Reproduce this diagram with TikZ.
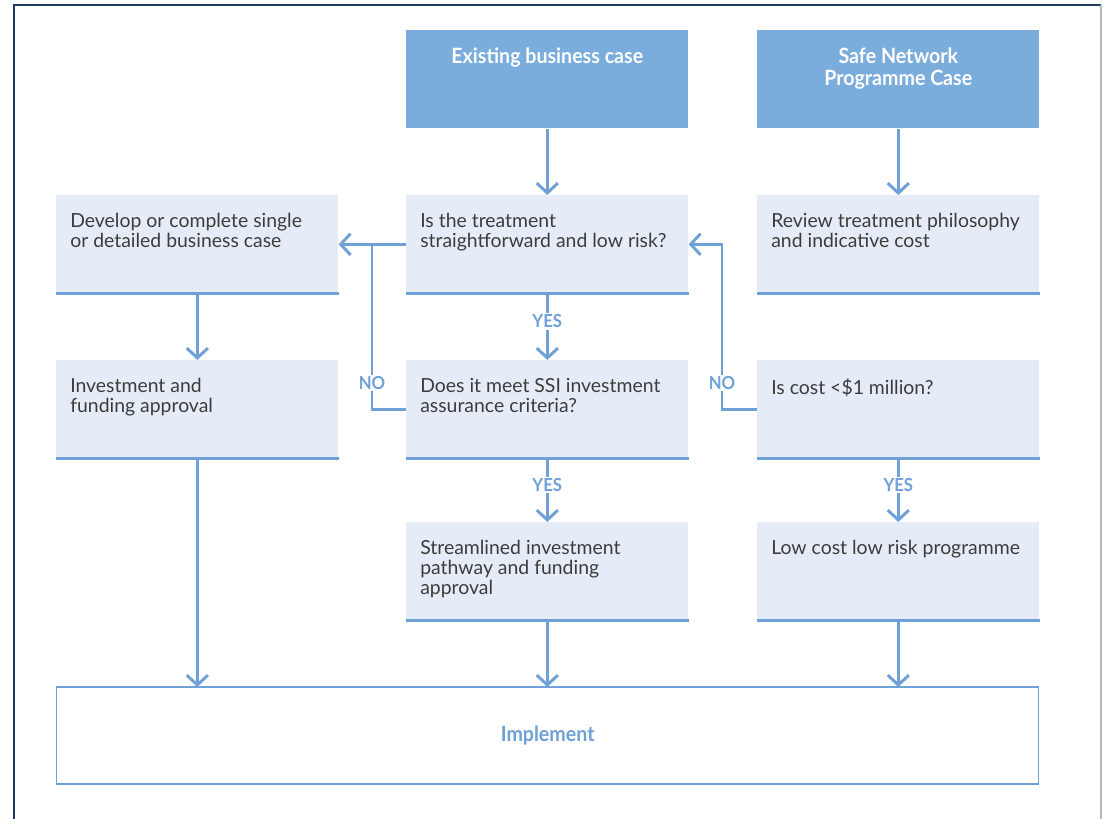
\documentclass[tikz,border=0pt]{standalone}
\usepackage{fontspec}
\setmainfont{Lato}
\newfontfamily\condfont[FakeStretch=0.93]{Lato}
\usetikzlibrary{arrows.meta}
\definecolor{flowblue}{HTML}{6FA0D6}
\definecolor{headblue}{HTML}{7AACDC}
\definecolor{boxfill}{HTML}{E6ECF7}
\definecolor{textgray}{HTML}{3C3C3C}
\definecolor{framenavy}{HTML}{1F3A5F}
\definecolor{framegray}{HTML}{AEB9C6}
\begin{document}
\begin{tikzpicture}[x=0.025cm,y=-0.025cm,
    card/.style={anchor=north west,inner xsep=0.35cm,inner ysep=0.45cm,
        execute at begin node={\begin{minipage}[t][1.55cm][t]{6.35cm}#1},
        execute at end node={\end{minipage}}},
    plainbox/.style={card=\raggedright,fill=boxfill,text=textgray,font=\fontsize{13.8}{14.3}\selectfont},
    headbox/.style={card=\centering,fill=headblue,text=white,font=\condfont\bfseries\fontsize{15}{15}\selectfont},
    implbox/.style={anchor=north west,minimum width=24.55cm,minimum height=2.4cm,fill=white,
        draw=flowblue,line width=0.8pt,text=flowblue,font=\condfont\bfseries\fontsize{15}{15}\selectfont},
    flow/.style={draw=flowblue,line width=2.1pt},
    arr/.style={flow,-{Straight Barb[length=7pt,width=15pt]}},
    answer/.style={fill=white,inner sep=1pt,text=flowblue,font=\condfont\bfseries\fontsize{12.8}{13}\selectfont}]
\useasboundingbox (0,0) rectangle (1105,819);
\draw[framenavy,line width=1.5pt] (14,819) -- (14,5) -- (1101,5);
\draw[framegray,line width=0.8pt] (1101,5) -- (1101,819);
% boxes
\node[headbox] (exist) at (406,30) {Existing business case};
\node[headbox] (safe) at (757,30) {Safe Network\\Programme Case};
\node[plainbox] (dev) at (56,195) {Develop or complete single\\or detailed business case};
\node[plainbox] (treat) at (406,195) {Is the treatment\\straightforward and low risk?};
\node[plainbox] (review) at (757,195) {Review treatment philosophy\\and indicative cost};
\node[plainbox] (invest) at (56,360) {Investment and\\funding approval};
\node[plainbox] (meet) at (406,360) {Does it meet SSI investment\\assurance criteria?};
\node[plainbox] (cost) at (757,360) {Is cost <\$1 million?};
\node[plainbox] (stream) at (406,522) {Streamlined investment\\pathway and funding\\approval};
\node[plainbox] (lowcost) at (757,522) {Low cost low risk programme};
\node[implbox] (impl) at (56,687) {Implement};
\foreach \n in {dev,treat,review,invest,meet,cost,stream,lowcost}
    \draw[flow,line width=1.6pt] (\n.south west) -- (\n.south east);
\draw[flow,line width=1.6pt] (impl.north west) -- (impl.north east) (impl.south west) -- (impl.south east);
% connectors
\foreach \a/\b in {exist/treat,safe/review,dev/invest} \draw[arr] (\a) -- (\b);
\foreach \a/\b in {treat/meet,meet/stream,cost/lowcost}
    \draw[arr] (\a) -- node[answer,pos=0.42] (yes\a) {YES} (\b);
\foreach \a in {invest,stream,lowcost} \draw[arr] (\a.south) -- (\a.south |- impl.north);
\draw[arr] (treat.west) -- (dev.east);
\draw[flow] (meet.west) -- ++(-34,0) |- node[answer,pos=0.08] (noleft) {NO} (treat.west);
\draw[arr] (cost.west) -- ++(-35,0) |- node[answer,pos=0.08] (noright) {NO} (treat.east);
\end{tikzpicture}
\end{document}
